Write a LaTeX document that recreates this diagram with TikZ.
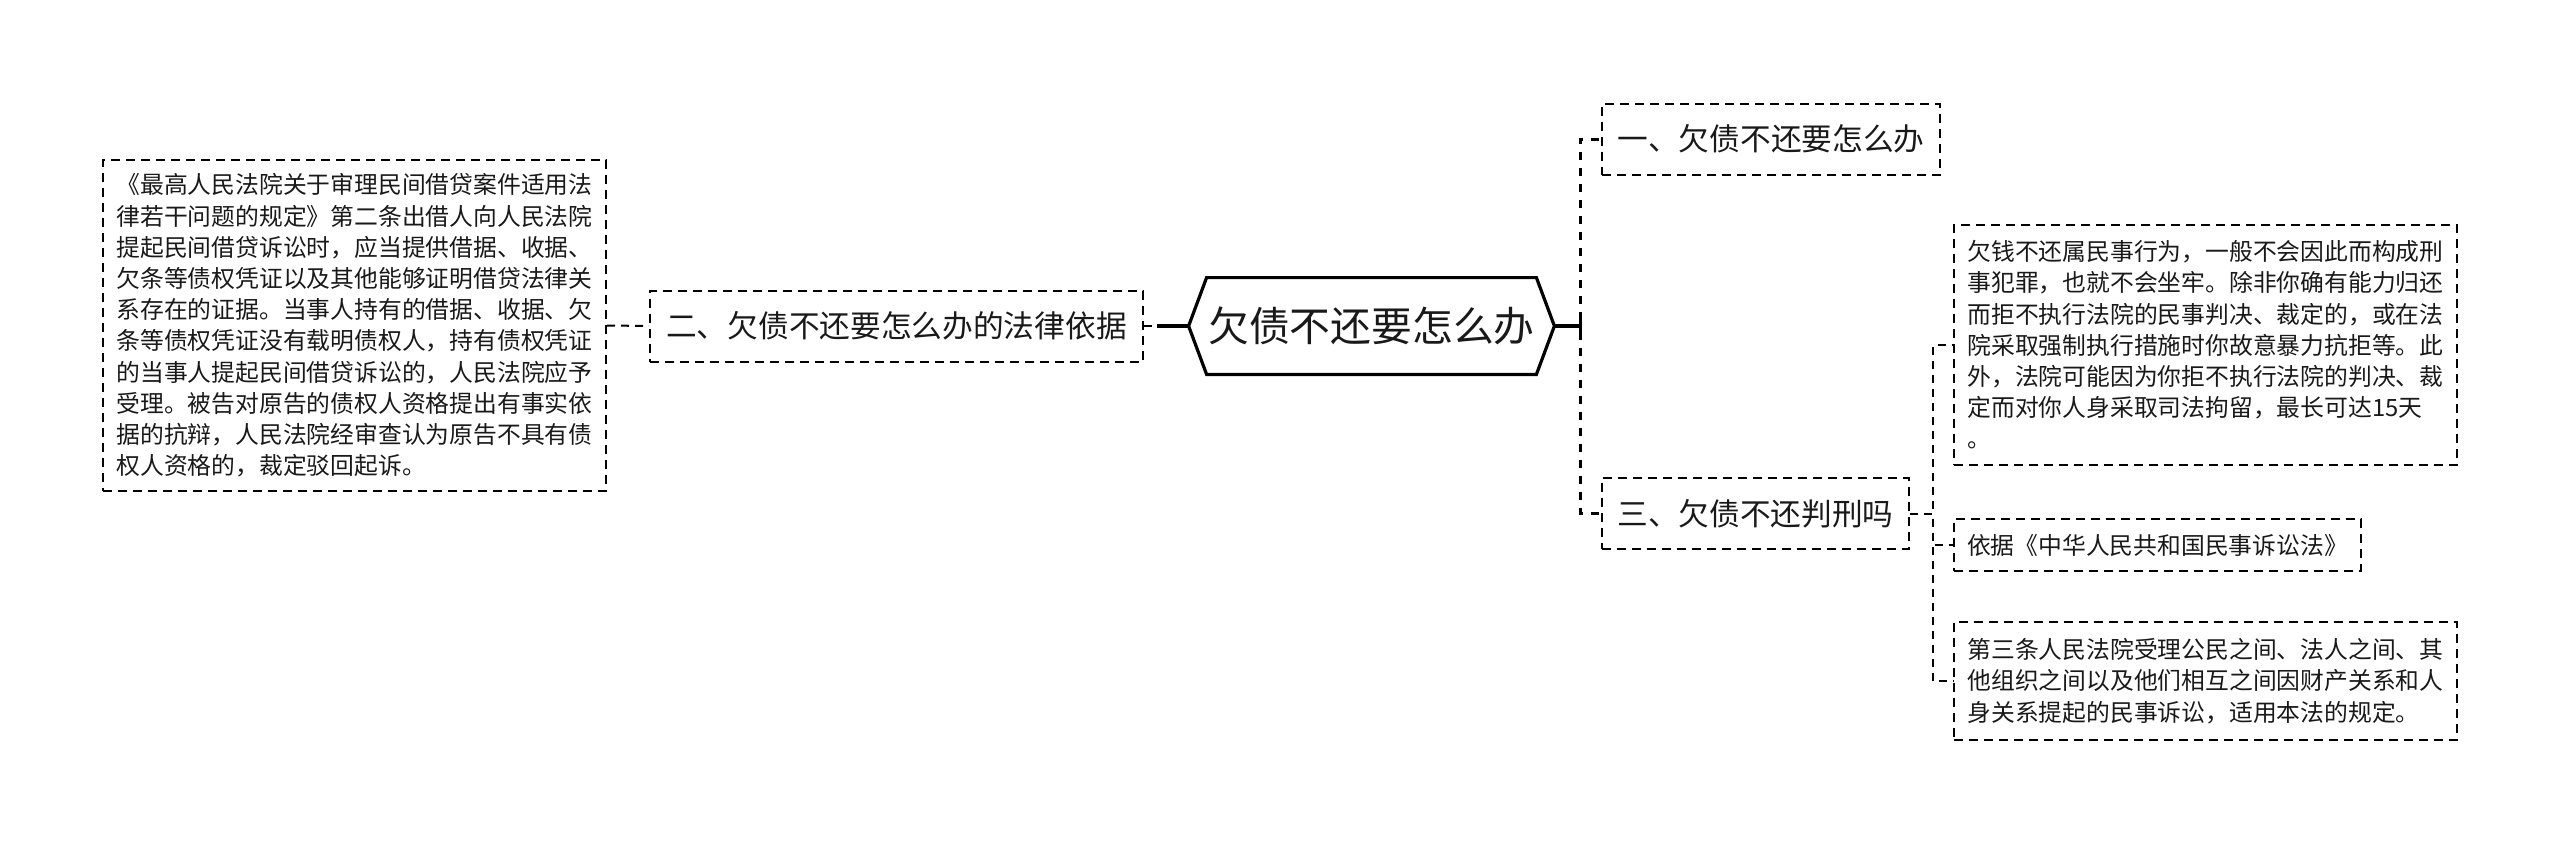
\documentclass[tikz,border=0pt]{standalone}
\usepackage{fontspec}
\setmainfont{Noto Sans CJK SC}
\usepackage{tikz}

\begin{document}
\begin{tikzpicture}[x=0.5pt, y=-0.5pt]

    % Define styles for the nodes
    \tikzstyle{rootnode} = [
        rectangle, inner sep=0pt, text centered, text=black!90,
        minimum width=164.5pt, minimum height=48pt,
        font=\fontsize{20.4pt}{24pt}\selectfont
    ]
    \tikzstyle{branch} = [
        rectangle, draw=black, dash pattern=on 4.5pt off 3pt, line width=1pt,
        inner sep=0pt, text centered, text=black!90, minimum height=35.5pt,
        font=\fontsize{15.35pt}{18pt}\selectfont
    ]
    \tikzstyle{leaf} = [
        rectangle, draw=black, dash pattern=on 4.5pt off 3pt, line width=1pt,
        inner sep=0pt, align=left, text=black!90, minimum width=251.5pt,
        font=\fontsize{11.9pt}{15.6pt}\selectfont
    ]
    \tikzstyle{link} = [line width=1pt, dash pattern=on 4pt off 3pt]
    \tikzstyle{mainlink} = [line width=1.5pt, dash pattern=on 4pt off 4pt]
    \tikzstyle{rootlink} = [line width=1.6pt]

    \useasboundingbox (0,0) rectangle (2560,842);

    % Nodes
    \node (root) [rootnode] at (1371.5,326) {欠债不还要怎么办};
    \draw [rootlink] ([xshift=-9pt]root.west) -- (root.north west) -- (root.north east)
        -- ([xshift=9pt]root.east) -- (root.south east) -- (root.south west) -- cycle;

    \node (law) [branch, minimum width=246.5pt] at (896.5,326) {二、欠债不还要怎么办的法律依据};
    \node (rules) [leaf, minimum height=165.5pt] at (354.5,325.5) {%
        《最高人民法院关于审理民间借贷案件适用法\\
        律若干问题的规定》第二条出借人向人民法院\\
        提起民间借贷诉讼时，应当提供借据、收据、\\
        欠条等债权凭证以及其他能够证明借贷法律关\\
        系存在的证据。当事人持有的借据、收据、欠\\
        条等债权凭证没有载明债权人，持有债权凭证\\
        的当事人提起民间借贷诉讼的，人民法院应予\\
        受理。被告对原告的债权人资格提出有事实依\\
        据的抗辩，人民法院经审查认为原告不具有债\\
        权人资格的，裁定驳回起诉。};

    \node (one) [branch, minimum width=169pt] at (1771,139) {一、欠债不还要怎么办};
    \node (three) [branch, minimum width=153.5pt] at (1755.5,513.5) {三、欠债不还判刑吗};

    \node (crime) [leaf, minimum height=120pt] at (2205.5,345) {%
        欠钱不还属民事行为，一般不会因此而构成刑\\
        事犯罪，也就不会坐牢。除非你确有能力归还\\
        而拒不执行法院的民事判决、裁定的，或在法\\
        院采取强制执行措施时你故意暴力抗拒等。此\\
        外，法院可能因为你拒不执行法院的判决、裁\\
        定而对你人身采取司法拘留，最长可达15天\\
        。};
    \node (basis) [leaf, minimum width=203.5pt, minimum height=26pt] at (2157.5,545)
        {依据《中华人民共和国民事诉讼法》};
    \node (article) [leaf, minimum height=59pt] at (2205.5,681) {%
        第三条人民法院受理公民之间、法人之间、其\\
        他组织之间以及他们相互之间因财产关系和人\\
        身关系提起的民事诉讼，适用本法的规定。};

    % Arrows
    \draw [link] (rules.east) -- (law.west);
    \draw [link] (law.east) -- ([xshift=-9pt]root.west);
    \draw [rootlink] ([xshift=-9pt]root.west) -- ++(-32,0);

    \draw [mainlink] ([xshift=9pt]root.east) -- ++(26,0) |- (one.west);
    \draw [mainlink] ([xshift=9pt]root.east) -- ++(26,0) |- (three.west);
    \draw [rootlink] ([xshift=9pt]root.east) -- ++(26,0) ++(0,-8) -- ++(0,16);

    \draw [link] (three.east) -- ++(23,0) |- (crime.west);
    \draw [link] (three.east) -- ++(23,0) |- (basis.west);
    \draw [link] (three.east) -- ++(23,0) |- (article.west);

\end{tikzpicture}
\end{document}
